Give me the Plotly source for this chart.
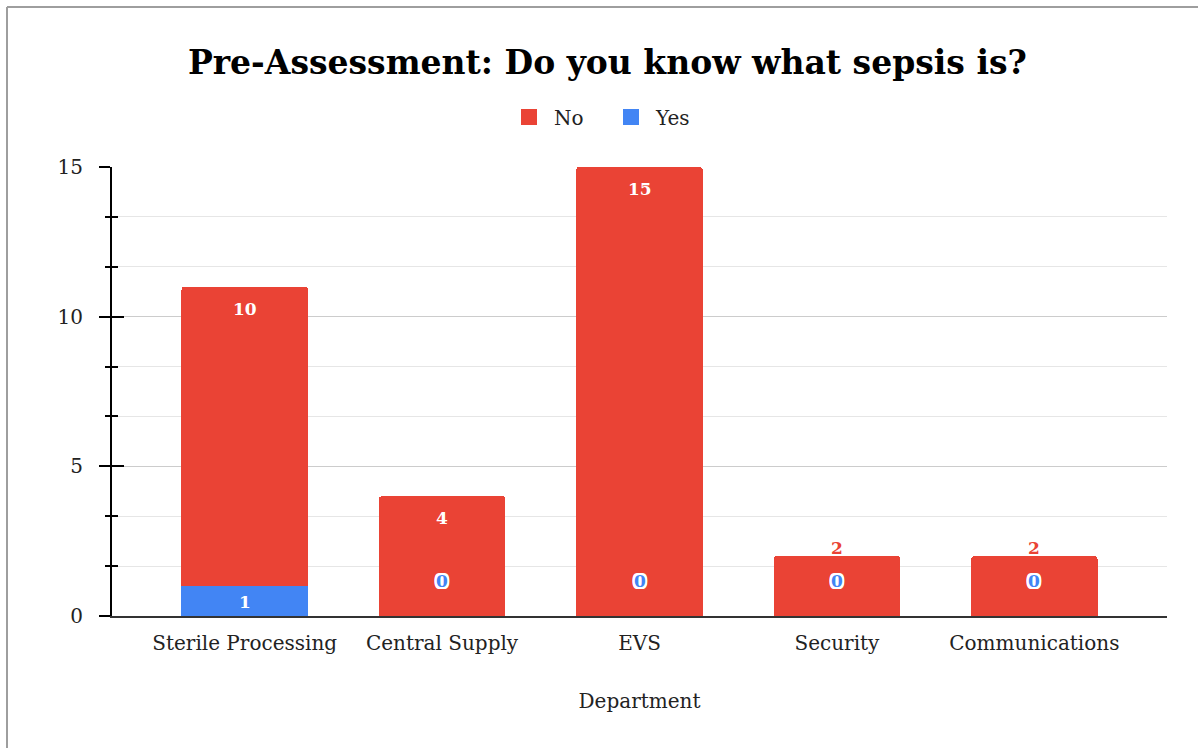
import plotly.graph_objects as go

categories = ["Sterile Processing", "Central Supply", "EVS", "Security", "Communications"]
yes_vals = [1, 0, 0, 0, 0]
no_vals = [10, 4, 15, 2, 2]
y_ticks = [0, 5, 10, 15]

RED = "#ea4335"
BLUE = "#4285f4"
FONT = "DejaVu Serif"

W, H = 1198, 748
L, R, T, B = 112, 31, 167, 132
pw, ph = W - L - R, H - T - B

outline = ", ".join(f"{dx}px {dy}px 0 #fff" for dx in (-2, -1, 0, 1, 2) for dy in (-2, -1, 0, 1, 2) if (dx, dy) != (0, 0))

fig = go.Figure()
fig.add_trace(go.Bar(name="Yes", x=categories, y=yes_vals, marker_color=BLUE, marker_line_width=0, showlegend=False))
fig.add_trace(go.Bar(name="No", x=categories, y=no_vals, marker_color=RED, marker_line_width=0, showlegend=False))
# legend entries
for name, col in [("No", RED), ("Yes", BLUE)]:
    fig.add_trace(go.Scatter(x=[None], y=[None], mode="markers", name=name,
                             marker=dict(symbol="square", size=22, color=col)))

ann = []
for c, yv, nv in zip(categories, yes_vals, no_vals):
    top = yv + nv
    if yv > 0:
        ann.append(dict(x=c, y=yv / 2, text=f"<b>{yv}</b>", showarrow=False, yshift=-1,
                        font=dict(family=FONT, size=17, color="white")))
    else:
        ann.append(dict(x=c, y=0, text=f"<b>{yv}</b>", showarrow=False, yshift=35,
                        font=dict(family=FONT, size=17, color=BLUE, shadow=outline)))
    if nv >= 3:
        ann.append(dict(x=c, y=top, text=f"<b>{nv}</b>", showarrow=False, yshift=-22,
                        font=dict(family=FONT, size=17, color="white")))
    else:
        ann.append(dict(x=c, y=top, text=f"<b>{nv}</b>", showarrow=False, yshift=8,
                        font=dict(family=FONT, size=17, color=RED, shadow=outline)))

shapes = [
    dict(type="line", xref="paper", yref="paper", x0=(7 - L) / pw, x1=(W - L) / pw,
         y0=(H - B - 7) / ph, y1=(H - B - 7) / ph, line=dict(color="#9e9e9e", width=2)),
    dict(type="line", xref="paper", yref="paper", x0=(7 - L) / pw, x1=(7 - L) / pw,
         y0=(H - B - 7) / ph, y1=(H - B - H) / ph, line=dict(color="#9e9e9e", width=2)),
]

fig.update_layout(
    width=W, height=H,
    margin=dict(l=L, r=R, t=T, b=B),
    barmode="stack", bargap=0.36, barcornerradius=3,
    paper_bgcolor="white", plot_bgcolor="white",
    font=dict(family=FONT, size=19, color="#222"),
    title=dict(text="<b>Pre-Assessment: Do you know what sepsis is?</b>", x=0.507, xanchor="center",
               y=1 - 62 / H, yanchor="middle", font=dict(family=FONT, size=33, color="black")),
    legend=dict(orientation="h", x=(606 - L) / pw, xanchor="center", y=1 + 50 / ph, yanchor="middle",
                itemsizing="trace", traceorder="normal", itemwidth=40, entrywidth=47,
                font=dict(size=20, color="#222")),
    xaxis=dict(range=[-0.672, 4.672], showline=True, linecolor="#333", linewidth=2, ticks="",
               title=dict(text="Department", font=dict(size=20, color="#222"), standoff=40),
               tickfont=dict(size=20, color="#222"), ticklabelstandoff=8),
    yaxis=dict(range=[0, 15], tickvals=y_ticks, showline=True, linecolor="black", linewidth=2,
               ticks="outside", ticklen=11, tickwidth=2, tickcolor="black",
               gridcolor="#cccccc", gridwidth=1, zeroline=False,
               tickfont=dict(size=20, color="#222"), ticklabelstandoff=12,
               minor=dict(dtick=5 / 3, tick0=0, showgrid=True, gridcolor="#e6e6e6",
                          ticks="outside", ticklen=5, tickcolor="black", tickwidth=2)),
    yaxis2=dict(range=[0, 15], overlaying="y", side="left", tickvals=y_ticks, showticklabels=False,
                ticks="inside", ticklen=12, tickwidth=2, tickcolor="black", showgrid=False, zeroline=False,
                minor=dict(dtick=5 / 3, tick0=0, ticks="inside", ticklen=6, tickcolor="black", tickwidth=2)),
    annotations=ann,
    shapes=shapes,
)
fig.add_trace(go.Scatter(x=[categories[0]], y=[0], yaxis="y2", mode="markers", marker=dict(opacity=0),
                         showlegend=False, hoverinfo="skip"))

fig.write_html("out.html")
